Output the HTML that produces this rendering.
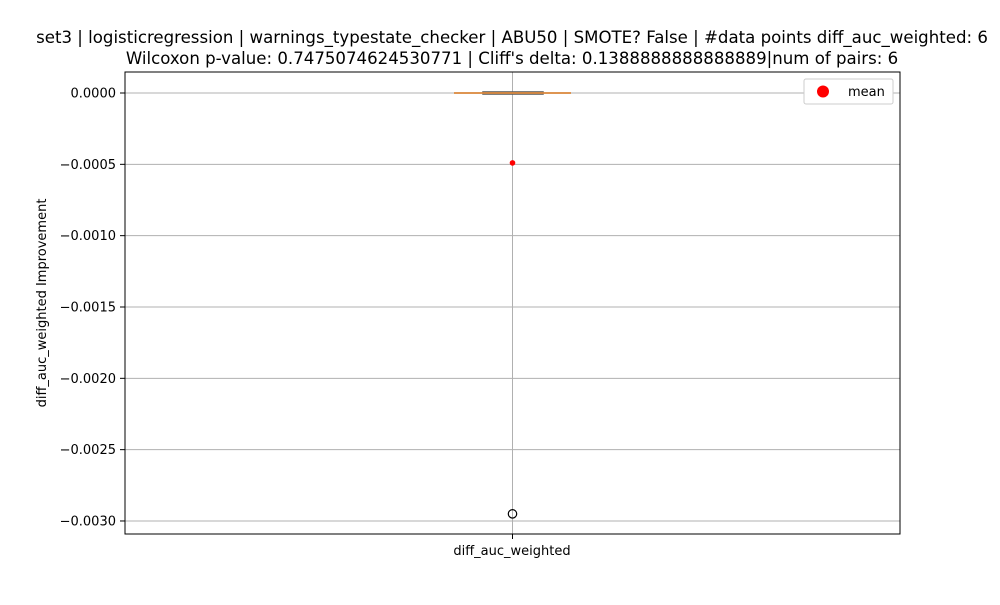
<!DOCTYPE html>
<html><head><meta charset="utf-8"><style>
body{margin:0;background:#fff;font-family:"Liberation Sans","DejaVu Sans",sans-serif}
</style></head><body>
<svg width="1000" height="600" xmlns="http://www.w3.org/2000/svg" font-family="DejaVu Sans, Liberation Sans, sans-serif">
<text x="512" y="43" text-anchor="middle" font-size="16.6">set3 | logisticregression | warnings_typestate_checker | ABU50 | SMOTE? False | #data points diff_auc_weighted: 6</text>
<text x="512" y="64" text-anchor="middle" font-size="16.6">Wilcoxon p-value: 0.7475074624530771 | Cliff's delta: 0.1388888888888889|num of pairs: 6</text>
<g id="grid"></g>
<g id="marks"></g>
<rect x="125" y="72" width="775" height="462" fill="none" stroke="#000" stroke-width="1"/>
<text x="512" y="555" text-anchor="middle" font-size="13">diff_auc_weighted</text>
<text transform="translate(46,303) rotate(-90)" text-anchor="middle" font-size="13">diff_auc_weighted Improvement</text>
<g>
<rect x="804" y="79" width="89" height="25" fill="#fff" stroke="#ccc" rx="2"/>
<circle cx="823" cy="91.5" r="6" fill="red"/>
<text x="848" y="96" font-size="13">mean</text>
</g>
</svg>
<script>
const yTicks=[0,-0.0005,-0.001,-0.0015,-0.002,-0.0025,-0.003];
const yTickLabels=["0.0000","\u22120.0005","\u22120.0010","\u22120.0015","\u22120.0020","\u22120.0025","\u22120.0030"];
const q1=[0];const q3=[0];const medianV=[0];const whiskerLo=[0];const whiskerHi=[0];
const meanV=[-0.00049];
const outliers=[-0.00295];
const ns="http://www.w3.org/2000/svg";
const y=v=>93-(v/0.0005)*71.33;
const cx=512.5;
function mk(t,a,p){const e=document.createElementNS(ns,t);for(const k in a)e.setAttribute(k,a[k]);p.appendChild(e);return e;}
const g=document.getElementById('grid'),m=document.getElementById('marks');
mk('line',{x1:cx,x2:cx,y1:72,y2:534,stroke:'#b0b0b0','stroke-width':1},g);
yTicks.forEach((t,i)=>{
 const l=mk('line',{x1:125,x2:900,y1:y(t),y2:y(t),stroke:'#b0b0b0','stroke-width':1},g);
 
 
 const k=mk('line',{x1:120,x2:125,y1:y(t),y2:y(t),stroke:'#000'},g);
 
 
 const tx=mk('text',{x:116,y:y(t)+4.5,'text-anchor':'end','font-size':13},g);
 tx.textContent=yTickLabels[i];
 
 
});
const kx=mk('line',{x1:cx,x2:cx,y1:534,y2:539,stroke:'#000'},g);


const box=mk('rect',{x:483,width:60,y:y(q3[0])-1,height:Math.max(2,y(q1[0])-y(q3[0])+2),fill:'none',stroke:'#555','stroke-width':1.5},m);


const wl=mk('line',{x1:cx,x2:cx,y1:y(whiskerHi[0]),y2:y(whiskerLo[0]),stroke:'#555'},m);


const md=mk('line',{x1:454,x2:571,y1:y(medianV[0]),y2:y(medianV[0]),stroke:'#e08a3c','stroke-width':2,opacity:0.85},m);


meanV.forEach(v=>{const c=mk('circle',{cx:cx,cy:y(v),r:2.8,fill:'red'},m);

});
outliers.forEach(v=>{const c=mk('circle',{cx:cx,cy:y(v),r:4.2,fill:'none',stroke:'#000','stroke-width':1.2},m);

});
</script>
</body></html>
